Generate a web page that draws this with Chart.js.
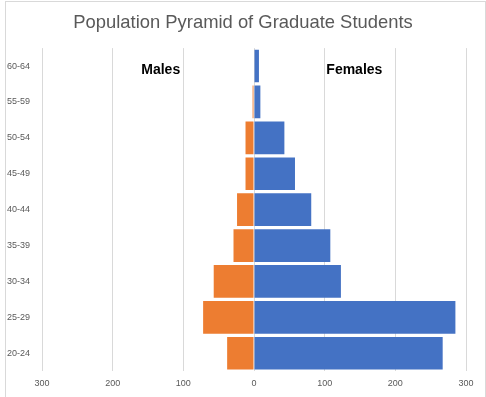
<!DOCTYPE html>
<html>
<head>
<meta charset="utf-8">
<script src="https://cdn.jsdelivr.net/npm/chart.js@4"></script>
<style>
    body { margin: 0; background: #fff; }
    .wrap { position: relative; width: 486px; height: 397px; overflow: hidden; }
    .frame { position: absolute; left: 5px; top: 1px; width: 479px; height: 420px; border: 1px solid #d9d9d9; }
    canvas { position: absolute; left: 0; top: 0; }
</style>
</head>
<body>
<div class="wrap">
    <div class="frame"></div>
    <canvas id="myChart" width="486" height="397"></canvas>
</div>
<script>
// age groups, top of the pyramid first
const ageGroups = ['60-64', '55-59', '50-54', '45-49', '40-44', '35-39', '30-34', '25-29', '20-24'];
const males = [0, 2, 12, 12, 24, 29, 57, 72, 38];
const females = [7, 9, 43, 58, 81, 108, 123, 285, 267];
const xTicks = [-300, -200, -100, 0, 100, 200, 300];

// text boxes placed on the chart in data units
const sideLabels = [
    { text: 'Males', x: -132 },
    { text: 'Females', x: 142 }
];

const sideLabelPlugin = {
    id: 'sideLabels',
    afterDatasetsDraw(chart) {
        const ctx = chart.ctx;
        const xs = chart.scales.x;
        const ys = chart.scales.y;
        ctx.save();
        ctx.font = 'bold 14px "Liberation Sans", Arial, sans-serif';
        ctx.fillStyle = '#000';
        ctx.textAlign = 'center';
        ctx.textBaseline = 'middle';
        sideLabels.forEach(l => {
            ctx.fillText(l.text, xs.getPixelForValue(l.x), ys.getPixelForValue(0) + 4);
        });
        ctx.restore();
    }
};

const ctx = document.getElementById('myChart').getContext('2d');
let chart = new Chart(ctx, {
    type: 'bar',
    data: {
        labels: ageGroups,
        datasets: [{
            label: 'Males',
            backgroundColor: '#ED7D31',
            data: males.map(v => -v)
        }, {
            label: 'Females',
            backgroundColor: '#4472C4',
            data: females
        }]
    },
    options: {
        indexAxis: 'y',
        responsive: false,
        animation: false,
        barPercentage: 0.91,
        categoryPercentage: 1,
        layout: { padding: { left: 0, right: 0, top: 0, bottom: 1 } },
        plugins: {
            legend: { display: false },
            tooltip: { enabled: false },
            title: {
                display: true,
                text: 'Population Pyramid of Graduate Students',
                color: '#595959',
                font: { family: '"Liberation Sans", Arial, sans-serif', size: 18.4, weight: 'normal' },
                padding: { top: 12, bottom: 14 }
            }
        },
        scales: {
            x: {
                stacked: true,
                min: -300,
                max: 300,
                afterBuildTicks: scale => { scale.ticks = xTicks.map(v => ({ value: v })); },
                grid: { color: '#d9d9d9', drawTicks: false },
                border: { display: false },
                ticks: {
                    color: '#595959',
                    padding: 7,
                    font: { family: '"Liberation Sans", Arial, sans-serif', size: 9 },
                    callback: v => Math.abs(v)
                }
            },
            y: {
                stacked: true,
                afterFit: scale => { scale.width = 42; },
                grid: { display: false, drawTicks: false },
                border: { display: false },
                ticks: {
                    color: '#595959',
                    padding: 12,
                    font: { family: '"Liberation Sans", Arial, sans-serif', size: 9 }
                }
            },
            yRight: {
                type: 'linear',
                position: 'right',
                afterFit: scale => { scale.width = 20; },
                grid: { display: false, drawTicks: false },
                border: { display: false },
                ticks: { display: false }
            }
        }
    },
    plugins: [sideLabelPlugin]
});
</script>
</body>
</html>
